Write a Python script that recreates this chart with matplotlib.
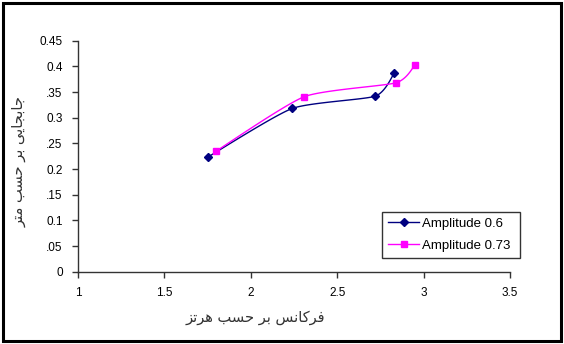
import matplotlib
matplotlib.use('Agg')
import matplotlib.pyplot as plt
import numpy as np
from matplotlib.patches import Rectangle

# measured response vs excitation frequency
freq_a06 = [1.75, 2.24, 2.72, 2.83]
resp_a06 = [0.223, 0.318, 0.342, 0.387]
freq_a073 = [1.80, 2.31, 2.84, 2.95]
resp_a073 = [0.235, 0.341, 0.368, 0.403]

series_labels = ['Amplitude 0.6', 'Amplitude 0.73']
x_ticks = [1, 1.5, 2, 2.5, 3, 3.5]
y_ticks = [0, 0.05, 0.1, 0.15, 0.2, 0.25, 0.3, 0.35, 0.4, 0.45]
y_tick_labels = ['0', '.05', '0.1', '.15', '0.2', '.25', '0.3', '.35', '0.4', '0.45']

x_label = 'فرکانس بر حسب هرتز'
y_label = 'جابجایی بر حسب متر'

# Arabic-script shaping: (isolated, final, initial, medial)
FORMS = {
    'ا': ('\uFE8D', '\uFE8E', None, None),
    'ب': ('\uFE8F', '\uFE90', '\uFE91', '\uFE92'),
    'ت': ('\uFE95', '\uFE96', '\uFE97', '\uFE98'),
    'ج': ('\uFE9D', '\uFE9E', '\uFE9F', '\uFEA0'),
    'ح': ('\uFEA1', '\uFEA2', '\uFEA3', '\uFEA4'),
    'ر': ('\uFEAD', '\uFEAE', None, None),
    'ز': ('\uFEAF', '\uFEB0', None, None),
    'س': ('\uFEB1', '\uFEB2', '\uFEB3', '\uFEB4'),
    'ف': ('\uFED1', '\uFED2', '\uFED3', '\uFED4'),
    'ل': ('\uFEDD', '\uFEDE', '\uFEDF', '\uFEE0'),
    'م': ('\uFEE1', '\uFEE2', '\uFEE3', '\uFEE4'),
    'ن': ('\uFEE5', '\uFEE6', '\uFEE7', '\uFEE8'),
    'ه': ('\uFEE9', '\uFEEA', '\uFEEB', '\uFEEC'),
    'ک': ('\uFB8E', '\uFB8F', '\uFB90', '\uFB91'),
    'ی': ('\uFBFC', '\uFBFD', '\uFBFE', '\uFBFF'),
}


def shape_rtl(text):
    out = []
    for i, ch in enumerate(text):
        if ch not in FORMS:
            out.append(ch)
            continue
        prev = text[i - 1] if i > 0 else ''
        nxt = text[i + 1] if i + 1 < len(text) else ''
        joins_prev = prev in FORMS and FORMS[prev][2] is not None
        joins_next = nxt in FORMS and FORMS[ch][2] is not None
        iso, fin, ini, med = FORMS[ch]
        if joins_prev and joins_next:
            out.append(med)
        elif joins_prev:
            out.append(fin)
        elif joins_next:
            out.append(ini)
        else:
            out.append(iso)
    return ''.join(reversed(out))


def smooth_curve(ax, xs, ys, n=30, tension=0.3):
    """Catmull-Rom smoothing done in display space, like spreadsheet smoothed lines."""
    pts = ax.transData.transform(np.column_stack([xs, ys]))
    p = np.vstack([pts[0], pts, pts[-1]])
    curve = []
    for i in range(1, len(p) - 2):
        p0, p1, p2, p3 = p[i - 1], p[i], p[i + 1], p[i + 2]
        m1 = tension * (p2 - p0)
        m2 = tension * (p3 - p1)
        t = np.linspace(0, 1, n)[:, None]
        h00 = 2 * t**3 - 3 * t**2 + 1
        h10 = t**3 - 2 * t**2 + t
        h01 = -2 * t**3 + 3 * t**2
        h11 = t**3 - t**2
        curve.append(h00 * p1 + h10 * m1 + h01 * p2 + h11 * m2)
    curve = np.vstack(curve)
    data = ax.transData.inverted().transform(curve)
    return data[:, 0], data[:, 1]


plt.rcParams['font.family'] = ['Liberation Sans', 'DejaVu Sans']

fig = plt.figure(figsize=(5.64, 3.44), dpi=100)
ax = fig.add_axes([0.1383, 0.2102, 0.766, 0.6715])
ax.set_xlim(1, 3.5)
ax.set_ylim(0, 0.45)

for spine in ['top', 'right']:
    ax.spines[spine].set_visible(False)
for spine in ['left', 'bottom']:
    ax.spines[spine].set_color('#333333')
    ax.spines[spine].set_linewidth(1.0)

ax.set_xticks(x_ticks)
ax.set_xticklabels([f'{v:g}' for v in x_ticks])
ax.set_yticks(y_ticks)
ax.set_yticklabels(y_tick_labels)
ax.tick_params(direction='out', length=4, width=1, color='#333333',
               labelsize=8.5, pad=7)

fig.canvas.draw()

colors = ['#000080', '#FF00FF']
markers = ['D', 's']
msizes = [4.5, 5]
handles = []
for xs, ys, c, m, ms, lab in zip([freq_a06, freq_a073], [resp_a06, resp_a073],
                                 colors, markers, msizes, series_labels):
    sx, sy = smooth_curve(ax, xs, ys)
    ax.plot(sx, sy, color=c, lw=1.0, zorder=2)
    ax.plot(xs, ys, linestyle='none', marker=m, color=c, ms=ms, zorder=3)
    h, = ax.plot([], [], color=c, lw=1.0, marker=m, ms=ms, label=lab)
    handles.append(h)

leg = fig.legend(handles=handles, loc='lower left',
                 bbox_to_anchor=(0.677, 0.25, 0.245, 0.145), mode='expand',
                 fontsize=9.5, frameon=True, fancybox=False, handlelength=2.4,
                 handletextpad=0.2, borderpad=0.45, labelspacing=0.75,
                 borderaxespad=0)
leg.get_frame().set_edgecolor('black')
leg.get_frame().set_linewidth(1.0)

fig.text(0.452, 0.076, shape_rtl(x_label), ha='center', va='center',
         fontsize=10.5, family=['DejaVu Sans'], color='#333333')
fig.text(0.034, 0.53, shape_rtl(y_label), ha='center', va='center',
         rotation=90, fontsize=10.5, family=['DejaVu Sans'], color='#333333')

# outer frame around the whole chart
fig.add_artist(Rectangle((0.005, 0.008), 0.989, 0.982, transform=fig.transFigure,
                         fill=False, edgecolor='black', linewidth=2.2))

fig.savefig('out.png', dpi=100)
